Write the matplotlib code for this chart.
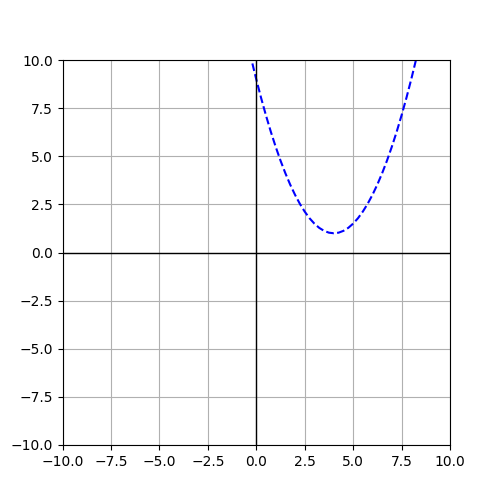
import matplotlib
matplotlib.use("Agg")
import matplotlib.pyplot as plt

# points
xs = [-0.2, 0.0, 0.25, 0.5, 0.75, 1.0, 1.25, 1.5, 1.75, 2.0, 2.25, 2.5, 2.75,
      3.0, 3.25, 3.5, 3.75, 4.0, 4.25, 4.5, 4.75, 5.0, 5.25, 5.5, 5.75,
      6.0, 6.25, 6.5, 6.75, 7.0, 7.25, 7.5, 7.75, 8.0, 8.25]
ys = [9.82, 9.0, 8.03, 7.125, 6.28, 5.5, 4.78, 4.125, 3.53, 3.0, 2.53, 2.125, 1.78,
      1.5, 1.28, 1.125, 1.03, 1.0, 1.03, 1.125, 1.28, 1.5, 1.78, 2.125, 2.53,
      3.0, 3.53, 4.125, 4.78, 5.5, 6.28, 7.125, 8.03, 9.0, 10.03]

fig = plt.figure(figsize=(5, 5), dpi=100)
ax = fig.add_subplot(111)
ax.plot(xs, ys, 'b--')
ax.axhline(0, color='black', linewidth=1)
ax.axvline(0, color='black', linewidth=1)
ax.set_xlim(-10, 10)
ax.set_ylim(-10, 10)
ax.grid(True)

fig.savefig("out.png")
